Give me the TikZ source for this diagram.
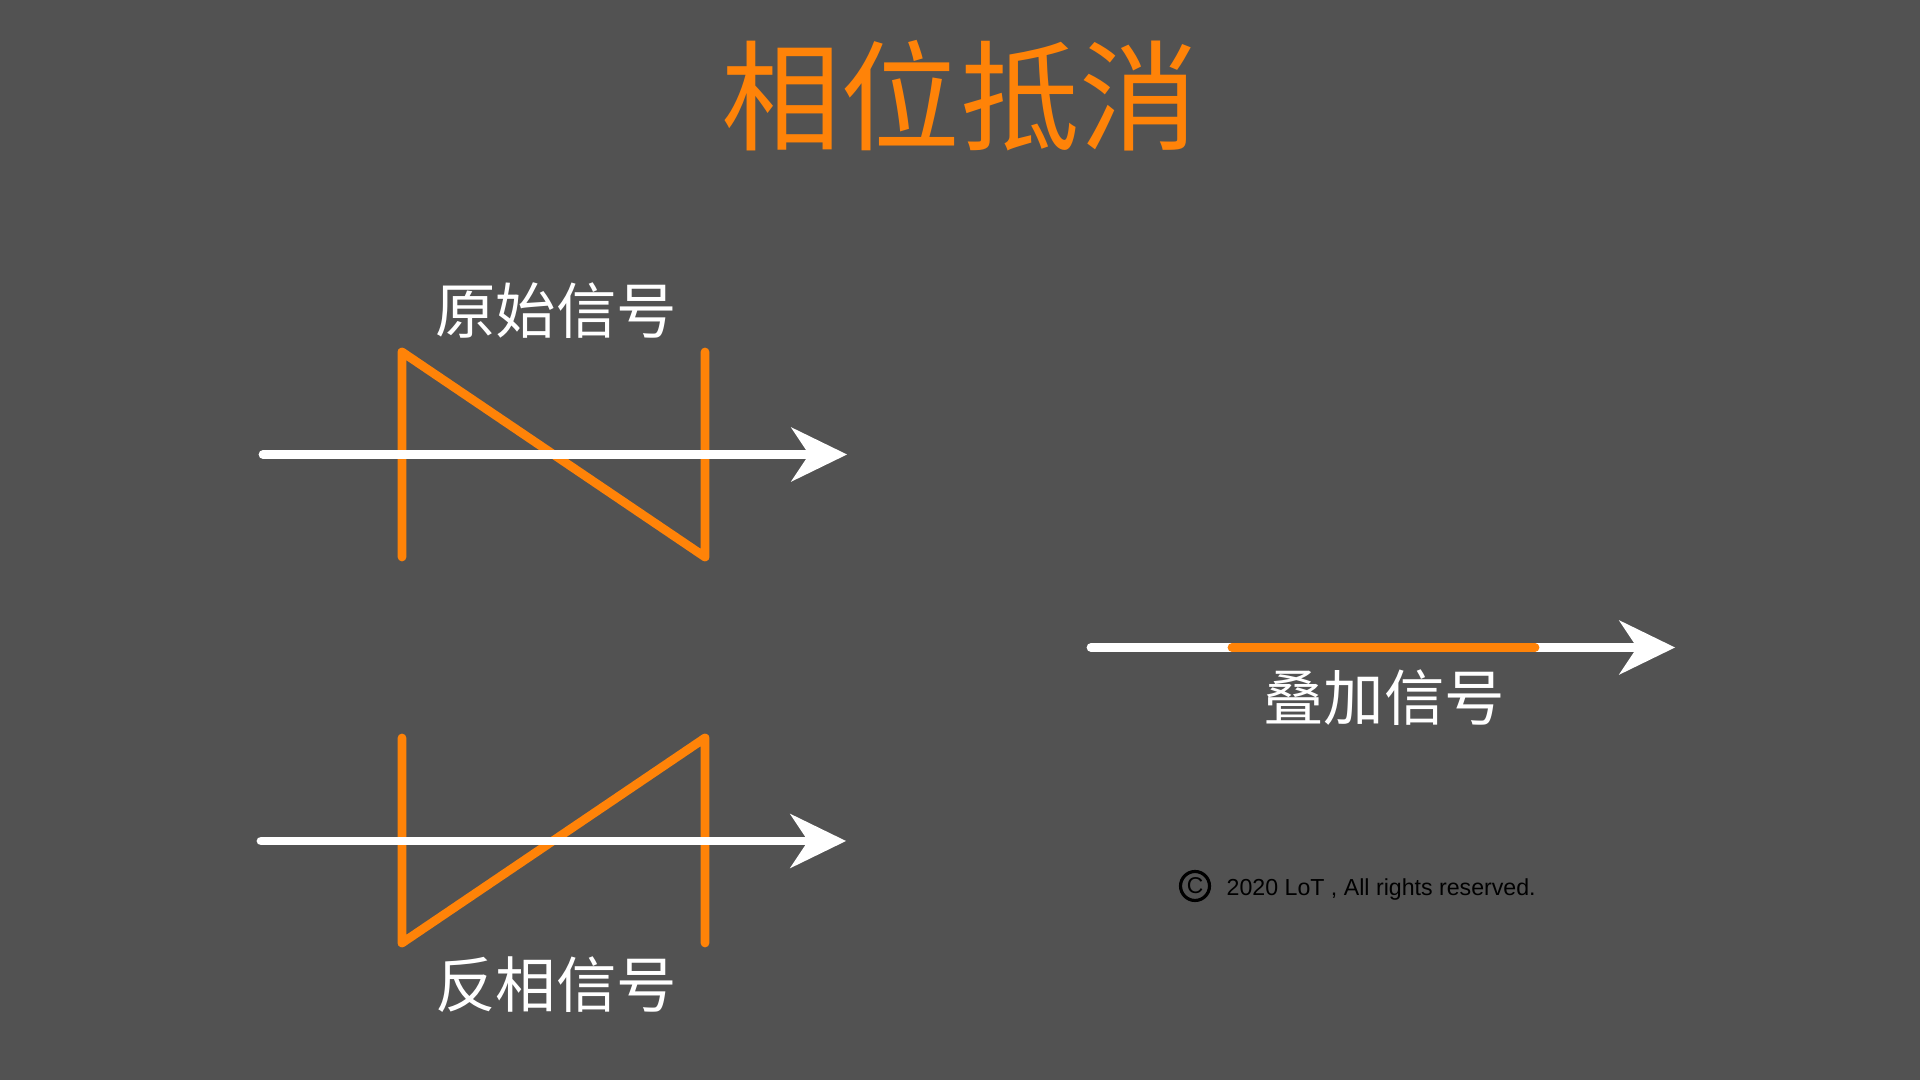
\documentclass[tikz,border=0pt]{standalone}
\usepackage{fontspec}
\setmainfont{Liberation Sans}
\newfontfamily\cjk{Noto Sans CJK SC}
\usetikzlibrary{arrows.meta}
\definecolor{bgcol}{HTML}{525252}
\definecolor{sigcol}{HTML}{FF8308}
\tikzset{
  axis/.style={white,line width=2.5pt,line cap=round,-{Stealth[length=16pt,width=15.6pt,inset=5.2pt,line width=0pt]}},
  wave/.style={sigcol,line width=2.5pt,line cap=round,line join=round},
  label/.style={white,font=\cjk\fontsize{17.2}{20}\selectfont,inner sep=0pt},
}
\begin{document}
\begin{tikzpicture}
\fill[bgcol] (0,0) rectangle (19.2,10.8);
\useasboundingbox (0,0) rectangle (19.2,10.8);
\node[font=\cjk\fontsize{34}{40}\selectfont,text=sigcol,inner sep=0pt] (title) at (9.6,9.84) {相位抵消};
% original signal
\node[label] (orig) at (5.56,7.69) {原始信号};
\coordinate (a1) at (4.02,7.28);
\coordinate (a2) at (4.02,5.23);
\coordinate (a3) at (7.05,7.28);
\coordinate (a4) at (7.05,5.23);
\coordinate (a5) at (2.63,6.255);
\coordinate (a6) at (8.47,6.255);
\path[draw,wave] (a2) -- (a1) -- (a4) -- (a3);
\path[draw,axis] (a5) -- (a6);
% inverted signal
\node[label] (inv) at (5.56,0.95) {反相信号};
\coordinate (b1) at (4.02,1.37);
\coordinate (b2) at (4.02,3.42);
\coordinate (b3) at (7.05,1.37);
\coordinate (b4) at (7.05,3.42);
\coordinate (b5) at (2.61,2.39);
\coordinate (b6) at (8.46,2.39);
\path[draw,wave] (b2) -- (b1) -- (b4) -- (b3);
\path[draw,axis] (b5) -- (b6);
% sum
\node[label] (sum) at (13.84,3.82) {叠加信号};
\coordinate (c1) at (10.91,4.325);
\coordinate (c2) at (16.75,4.325);
\coordinate (c3) at (12.32,4.325);
\coordinate (c4) at (15.35,4.325);
\path[draw,axis] (c1) -- (c2);
\path[draw,wave] (c3) -- (c4);
% footer
\node[draw,circle,line width=0.9pt,inner sep=0.6pt,minimum size=0.28cm,font=\fontsize{6.5}{8}\selectfont] (copy) at (11.95,1.94) {C};
\node[font=\fontsize{6.59}{8}\selectfont,anchor=west,inner sep=0pt] (note) at (12.26,1.905) {2020 LoT , All rights reserved.};
\end{tikzpicture}
\end{document}
